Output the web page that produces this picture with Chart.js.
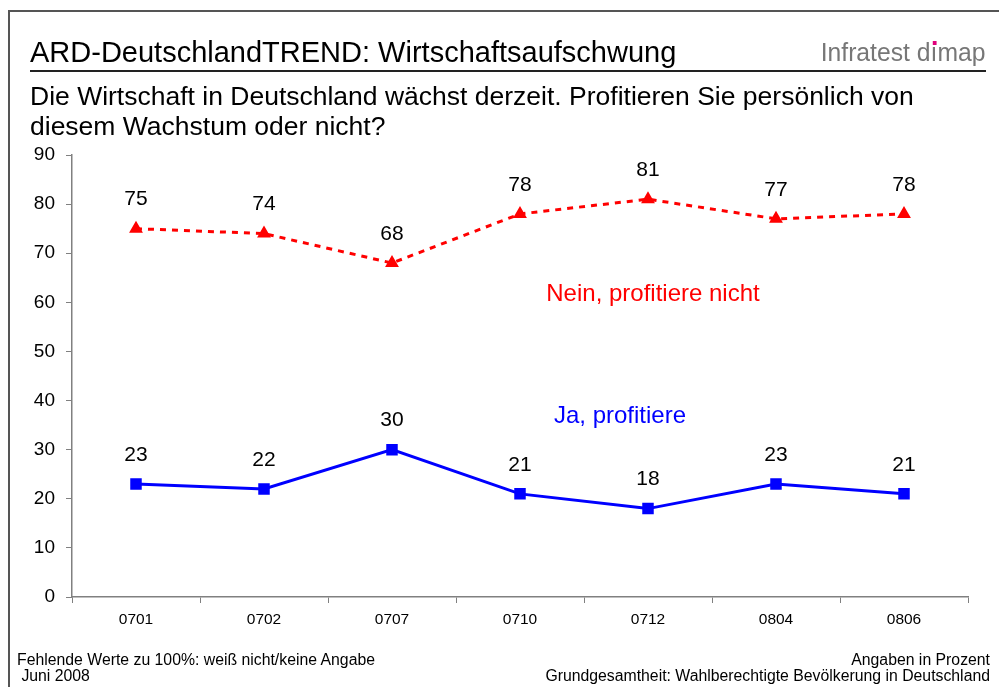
<!DOCTYPE html>
<html>
<head>
<meta charset="utf-8">
<script src="https://cdn.jsdelivr.net/npm/chart.js@4.4.0/dist/chart.umd.min.js"></script>
<style>
    body { margin: 0; background: #fff; font-family: "Liberation Sans", Arial, sans-serif; }
    #page { position: relative; width: 999px; height: 687px; overflow: hidden; }
    #frame { position: absolute; left: 8px; top: 10px; width: 1000px; height: 700px; border-left: 2px solid #555; border-top: 2px solid #555; }
    #chart { position: absolute; left: 0; top: 0; }
    .txt { position: absolute; white-space: nowrap; }
    #title { left: 30px; top: 36px; font-size: 29px; }
    #rule { position: absolute; left: 30px; top: 70px; width: 956px; height: 0; border-top: 2px solid #222; }
    #brand { right: 14px; top: 37px; font-size: 26px; color: #777; font-family: "Liberation Sans Narrow", "Liberation Sans", sans-serif; transform: scaleX(0.95); transform-origin: right; }
    #brand .dot { position: relative; }
    #brand .dot::after { content: ''; position: absolute; left: 2px; top: 4px; width: 4px; height: 4px; background: #e0007a; }
    #sub { left: 30px; top: 81px; font-size: 26.5px; line-height: 30px; }
    .lab { font-size: 24px; transform: translateX(-50%); }
    .foot { font-size: 15.8px; line-height: 16px; }
</style>
</head>
<body>
<div id="page">
    <div id="frame"></div>
    <canvas id="chart" width="999" height="687"></canvas>
    <div class="txt" id="title">ARD-DeutschlandTREND: Wirtschaftsaufschwung</div>
    <div class="txt" id="brand">Infratest d<span class="dot">ı</span>map</div>
    <div id="rule"></div>
    <div class="txt" id="sub">Die Wirtschaft in Deutschland wächst derzeit. Profitieren Sie persönlich von<br>diesem Wachstum oder nicht?</div>
    <div class="txt lab" style="left:653px; top:279px; color:#ff0000;">Nein, profitiere nicht</div>
    <div class="txt lab" style="left:620px; top:401px; color:#0000ff;">Ja, profitiere</div>
    <div class="txt foot" style="left:17px; top:652px;">Fehlende Werte zu 100%: weiß nicht/keine Angabe<br>&nbsp;Juni 2008</div>
    <div class="txt foot" style="right:9px; top:652px; text-align:right;">Angaben in Prozent<br>Grundgesamtheit: Wahlberechtigte Bevölkerung in Deutschland</div>
</div>
<script>
    const waves = ['0701', '0702', '0707', '0710', '0712', '0804', '0806'];
    const nein = [75, 74, 68, 78, 81, 77, 78];
    const ja = [23, 22, 30, 21, 18, 23, 21];
    const yTicks = [0, 10, 20, 30, 40, 50, 60, 70, 80, 90];

    // Zahlen über den Punkten
    const valueLabels = {
        id: 'valueLabels',
        afterDatasetsDraw(chart) {
            const ctx = chart.ctx;
            ctx.save();
            ctx.font = '21px "Liberation Sans", Arial, sans-serif';
            ctx.fillStyle = '#000';
            ctx.textAlign = 'center';
            ctx.textBaseline = 'middle';
            chart.data.datasets.forEach((ds, i) => {
                chart.getDatasetMeta(i).data.forEach((pt, j) => {
                    ctx.fillText(ds.data[j], pt.x, pt.y - 29);
                });
            });
            ctx.restore();
        }
    };

    const ctx = document.getElementById('chart').getContext('2d');
    new Chart(ctx, {
        type: 'line',
        data: {
            labels: waves,
            datasets: [
                {
                    label: 'Nein, profitiere nicht',
                    data: nein,
                    borderColor: '#ff0000',
                    backgroundColor: '#ff0000',
                    borderWidth: 3,
                    borderDash: [6, 6],
                    pointStyle: 'triangle',
                    pointRadius: 5,
                    tension: 0
                },
                {
                    label: 'Ja, profitiere',
                    data: ja,
                    borderColor: '#0000ff',
                    backgroundColor: '#0000ff',
                    borderWidth: 3,
                    pointStyle: 'rect',
                    pointRadius: 6,
                    tension: 0
                }
            ]
        },
        options: {
            responsive: false,
            animation: false,
            layout: { padding: { top: 155, right: 31, left: 0, bottom: 0 } },
            scales: {
                x: {
                    offset: true,
                    grid: { offset: true, drawOnChartArea: false, drawTicks: true, tickLength: 6, color: '#808080' },
                    border: { color: '#808080', width: 1.5 },
                    ticks: { color: '#000', font: { size: 15.5, family: '"Liberation Sans", Arial' }, padding: 7, maxRotation: 0 },
                    afterFit(scale) { scale.height = 90; }
                },
                y: {
                    min: 0,
                    max: 90,
                    afterBuildTicks(scale) { scale.ticks = yTicks.map(v => ({ value: v })); },
                    grid: { drawOnChartArea: false, drawTicks: true, tickLength: 6, color: '#808080' },
                    border: { color: '#808080', width: 1.5 },
                    ticks: { color: '#000', font: { size: 19, family: '"Liberation Sans", Arial' }, padding: 11 },
                    afterFit(scale) { scale.width = 72; }
                }
            },
            plugins: {
                legend: { display: false },
                tooltip: { enabled: false }
            }
        },
        plugins: [valueLabels]
    });
</script>
</body>
</html>
